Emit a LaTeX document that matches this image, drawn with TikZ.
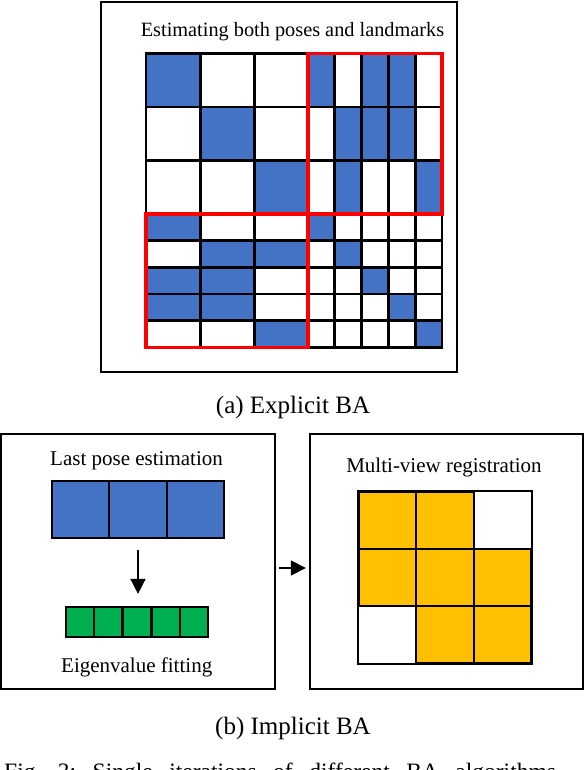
\documentclass[tikz,border=0pt]{standalone}
\usepackage{fontspec}
\setmainfont{Liberation Serif}
\usetikzlibrary{arrows.meta,calc}
\definecolor{myblue}{HTML}{4472C4}
\definecolor{mygreen}{HTML}{00B050}
\definecolor{myyellow}{HTML}{FFC000}
\definecolor{myred}{HTML}{FF0000}
\tikzset{
  panel/.style={draw=black, line width=2.2pt, rectangle, inner sep=0pt},
  cellrow/.style={draw=black, line width=2.2pt, rectangle, inner sep=0pt},
  gl/.style={draw=black, line width=2.9pt},
  thin gl/.style={draw=black, line width=2.3pt},
  redbox/.style={draw=myred, line width=3.2pt},
  arr/.style={draw=black, line width=1.5pt, -{Triangle[length=15pt,width=15pt]}},
  lbl/.style={anchor=base, inner sep=0pt, font=\fontsize{21}{25}\selectfont},
  captxt/.style={anchor=base, inner sep=0pt, font=\fontsize{25}{29}\selectfont},
}
\begin{document}
\begin{tikzpicture}[x=1pt,y=-1pt]
\useasboundingbox (0,0) rectangle (584,770);
\begin{scope}
\clip (0,0) rectangle (584,770);
\fill[white] (0,0) rectangle (584,770);

% ---------- (a) Explicit BA ----------
\node[panel, minimum width=356pt, minimum height=370pt] (top) at (279,187) {};
\node[lbl, font=\fontsize{20.3}{24}\selectfont] (ttl) at (292.5,37) {Estimating both poses and landmarks};

\foreach \x [count=\i from 0] in {146,200.3,254.1,308,334.8,361.6,388.4,415.2,442}
  \foreach \y [count=\j from 0] in {53.3,107,160.6,214,240.7,267.4,294,320.6,347.3}
    \coordinate (g\i-\j) at (\x,\y);

\foreach \c/\r in {0/0,3/0,5/0,6/0, 1/1,4/1,5/1,6/1, 2/2,4/2,7/2, 0/3,3/3, 1/4,2/4,4/4, 0/5,1/5,5/5, 0/6,1/6,6/6, 2/7,7/7}
{
  \pgfmathtruncatemacro\cc{\c+1}
  \pgfmathtruncatemacro\rr{\r+1}
  \fill[myblue] (g\c-\r) rectangle (g\cc-\rr);
}
\foreach \i in {1,...,7}
{
  \draw[gl] (g\i-0) -- (g\i-8);
  \draw[gl] (g0-\i) -- (g8-\i);
}
\draw[gl] (g0-0) rectangle (g8-8);
\draw[redbox] (g3-0) rectangle (g8-3);
\draw[redbox] (g0-3) rectangle (g3-8);

\node[captxt] (capa) at (293,413.3) {(a) Explicit BA};

% ---------- (b) Implicit BA ----------
\node[panel, minimum width=274pt, minimum height=255pt] (lp) at (138,561.5) {};
\node[panel, minimum width=272.7pt, minimum height=255pt] (rp) at (446.3,561.5) {};

\node[lbl] (lpt) at (136.5,465) {Last pose estimation};
\node[cellrow, fill=myblue, minimum width=172pt, minimum height=57pt] (br) at (138,509.5) {};
\foreach \k in {1,2}
  \draw[thin gl] ($(br.north west)!\k/3!(br.north east)$) -- ($(br.south west)!\k/3!(br.south east)$);

\node[cellrow, fill=mygreen, minimum width=142pt, minimum height=30pt] (gr) at (137,622) {};
\foreach \k in {1,...,4}
  \draw[thin gl] ($(gr.north west)!\k/5!(gr.north east)$) -- ($(gr.south west)!\k/5!(gr.south east)$);

\node[lbl] (eft) at (136.7,672) {Eigenvalue fitting};

\draw[arr, shorten <=11pt, shorten >=12pt] (br.south) -- (br.south |- gr.north);

\node[lbl] (mvt) at (444,472.7) {Multi-view registration};
\node[cellrow, fill=myyellow, minimum width=171.4pt, minimum height=170.4pt] (yg) at (445,577.5) {};
\fill[white] ($(yg.north west)!2/3!(yg.north east)$) rectangle ($(yg.north east)!1/3!(yg.south east)$);
\fill[white] ($(yg.north west)!2/3!(yg.south west)$) rectangle ($(yg.south west)!1/3!(yg.south east)$);
\foreach \k in {1,2}
{
  \draw[thin gl] ($(yg.north west)!\k/3!(yg.north east)$) -- ($(yg.south west)!\k/3!(yg.south east)$);
  \draw[thin gl] ($(yg.north west)!\k/3!(yg.south west)$) -- ($(yg.north east)!\k/3!(yg.south east)$);
}
\draw[thin gl] (yg.north west) rectangle (yg.south east);

\coordinate (ah) at (0,568);
\draw[arr] ($(lp.east |- ah)+(3,0)$) -- ($(rp.west |- ah)+(-3,0)$);

\node[captxt] (capb) at (293,734.5) {(b) Implicit BA};

\node[anchor=base west, inner sep=0pt, font=\fontsize{23.5}{28}\selectfont] (fig) at (4,779)
  {\frenchspacing\spaceskip=16.5pt Fig. 3: Single iterations of different BA algorithms};
\end{scope}
\end{tikzpicture}
\end{document}
